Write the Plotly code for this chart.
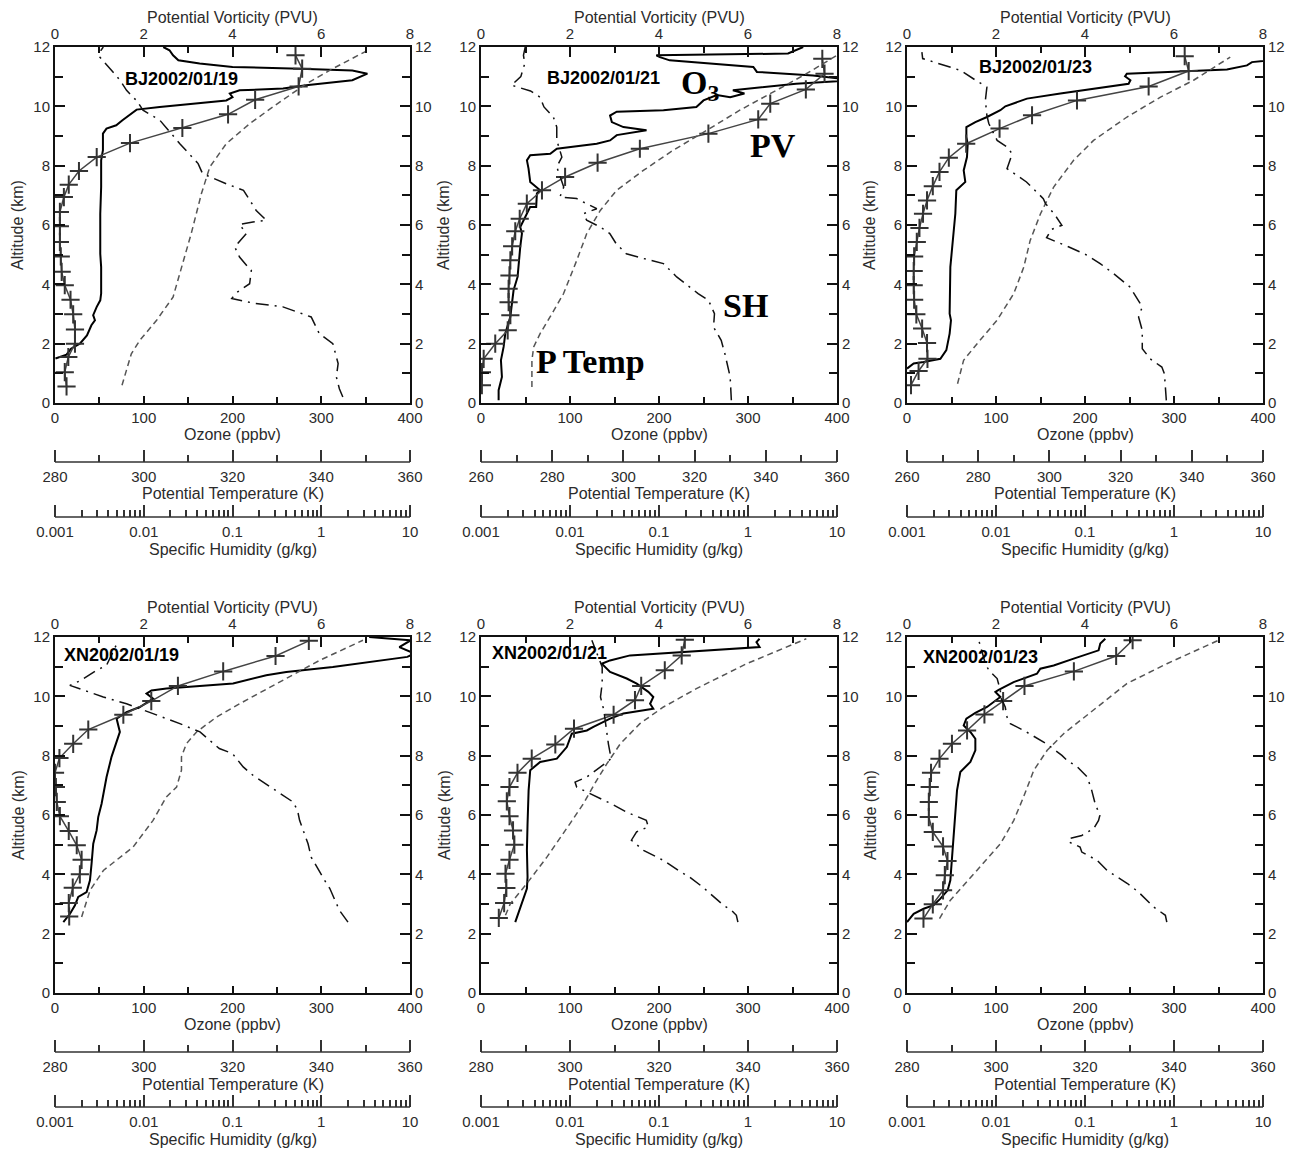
import plotly.graph_objects as go

W, H = 1298, 1150

# ---------------- data ----------------
# BJ 2002/01/19
bj19_o3_alt = [1.5, 1.63, 1.83, 2.0, 2.28, 2.62, 2.79, 2.96, 3.24, 3.46, 3.69, 4.58, 5.03, 6.38, 7.28, 8.18, 8.52, 9.08, 9.25, 9.36, 9.53, 9.70, 9.89, 9.98, 10.09, 10.2, 10.31, 10.43, 10.54, 10.6, 10.71, 10.88, 11.1, 11.21, 11.27, 11.33, 11.44, 11.55, 11.72, 11.89, 12.0]
bj19_o3 = [0.5, 13, 18, 28, 36, 41, 45, 43, 47, 51, 52, 52, 51, 51, 52, 52, 54, 54, 58, 69, 76, 84, 92, 118, 156, 193, 200, 197, 208, 257, 283, 335, 352, 335, 276, 200, 163, 139, 133, 129, 122]
bj19_pv_alt = [0.56, 1.04, 1.55, 2.0, 2.48, 2.99, 3.48, 3.97, 4.42, 4.94, 5.43, 5.96, 6.44, 6.94, 7.36, 7.82, 8.29, 8.76, 9.27, 9.73, 10.22, 10.67, 11.27, 11.72]
bj19_pv = [0.26, 0.22, 0.30, 0.45, 0.45, 0.41, 0.35, 0.22, 0.15, 0.13, 0.11, 0.11, 0.11, 0.20, 0.31, 0.54, 0.94, 1.69, 2.87, 3.90, 4.51, 5.49, 5.57, 5.42]
bj19_pt_alt = [0.6, 1.66, 2.11, 2.79, 3.57, 4.58, 5.71, 7.06, 7.96, 8.74, 9.42, 9.98, 10.76, 11.27, 11.89]
bj19_pt = [295.1, 297.2, 299.1, 302.9, 306.6, 308.5, 310.7, 313.0, 314.9, 318.6, 323.9, 329.1, 336.6, 342.6, 350.5]
bj19_sh_alt = [0.2, 0.48, 0.88, 1.33, 2.0, 2.34, 2.9, 3.24, 3.37, 3.46, 3.52, 3.71, 4.02, 4.47, 4.58, 4.92, 5.26, 5.71, 6.02, 6.1, 6.16, 6.49, 7.17, 7.39, 7.73, 8.07, 8.74, 9.53, 9.87, 10.2, 10.3, 10.54, 10.88, 11.16, 11.66, 11.89, 12.0]
bj19_sh = [1.75, 1.6, 1.48, 1.55, 1.35, 0.95, 0.77, 0.37, 0.17, 0.116, 0.098, 0.11, 0.156, 0.163, 0.15, 0.12, 0.106, 0.143, 0.12, 0.17, 0.24, 0.185, 0.133, 0.085, 0.046, 0.041, 0.0255, 0.0152, 0.0098, 0.0083, 0.0076, 0.0064, 0.0054, 0.0045, 0.0032, 0.0033, 0.0035]

# BJ 2002/01/21
bj21_o3_alt = [0.09, 0.43, 0.88, 1.44, 1.89, 2.34, 2.9, 3.35, 3.8, 4.25, 4.7, 5.26, 5.71, 5.93, 6.27, 6.61, 6.61, 7.06, 7.17, 7.45, 7.9, 8.18, 8.35, 8.4, 8.57, 8.63, 8.74, 8.85, 9.03, 9.19, 9.3, 9.47, 9.69, 9.82, 9.87, 9.98, 10.2, 10.38, 10.31, 10.43, 10.54, 10.76, 10.88, 11.04, 11.16, 11.33, 11.44, 11.55, 11.66, 11.72, 11.78, 11.9, 12.0]
bj21_o3 = [19.8, 19.8, 23.5, 22.4, 25.4, 27.3, 32.9, 34.8, 36.6, 41.1, 42.2, 44.1, 46, 44.1, 49.7, 55.3, 62, 62.8, 66.5, 55.3, 53.4, 51.6, 55.3, 77.8, 85.2, 100, 130, 145, 152.5, 186, 160, 147, 145, 152.5, 205, 242, 250, 265, 280, 296, 283, 354, 418, 373, 310, 306, 253, 212, 201, 197, 345, 355, 362]
bj21_pv_alt = [0.6, 1.04, 1.49, 2.0, 2.45, 2.96, 3.4, 3.85, 4.3, 4.81, 5.28, 5.79, 6.21, 6.72, 7.17, 7.62, 8.1, 8.57, 9.08, 9.56, 10.09, 10.57, 11.1, 11.6]
bj21_pv = [0.02, 0.02, 0.06, 0.32, 0.60, 0.66, 0.62, 0.62, 0.64, 0.66, 0.70, 0.77, 0.87, 1.03, 1.37, 1.89, 2.62, 3.57, 5.11, 6.23, 6.50, 7.30, 7.72, 7.67]
bj21_pt_alt = [0.54, 1.44, 1.89, 2.34, 2.9, 3.69, 4.81, 5.71, 6.49, 7.17, 7.84, 8.52, 9.19, 9.87, 10.6, 11.1, 11.72]
bj21_pt = [274.3, 274.3, 274.8, 276.6, 279.4, 283.2, 286.9, 289.7, 293.5, 298.1, 305.6, 314.0, 323.4, 332.7, 343.9, 351.4, 360.0]
bj21_sh_alt = [0.09, 0.88, 1.66, 2.11, 2.56, 3.01, 3.46, 3.69, 4.25, 4.7, 4.87, 5.03, 5.37, 5.71, 5.93, 6.16, 6.38, 6.55, 6.66, 6.89, 6.94, 7.28, 7.96, 8.29, 8.63, 8.85, 9.3, 9.64, 9.98, 10.31, 10.52, 10.71, 11.0, 11.44, 11.72, 12.0]
bj21_sh = [0.65, 0.63, 0.55, 0.5, 0.41, 0.42, 0.36, 0.275, 0.158, 0.112, 0.067, 0.043, 0.033, 0.028, 0.022, 0.0154, 0.0142, 0.020, 0.0168, 0.0119, 0.0077, 0.0085, 0.0071, 0.0081, 0.0075, 0.0071, 0.0071, 0.0065, 0.0051, 0.0046, 0.0036, 0.0022, 0.0028, 0.0031, 0.0030, 0.00314]

# BJ 2002/01/23
bj23_o3_alt = [1.16, 1.33, 1.38, 1.49, 1.78, 2.34, 2.79, 3.01, 4.58, 5.48, 6.38, 7.17, 7.45, 7.84, 8.29, 8.74, 8.97, 9.3, 9.47, 9.64, 9.87, 10.0, 10.26, 10.43, 10.6, 10.76, 10.88, 11.01, 11.1, 11.19, 11.24, 11.38, 11.49, 11.6, 11.78, 11.94, 12.0]
bj23_o3 = [0, 7.5, 18.7, 37.5, 44.2, 47.9, 49.4, 47.9, 48.7, 51.7, 54.3, 55.4, 65.5, 63.7, 67.4, 68.2, 66.7, 66.7, 76.8, 89.9, 104.9, 110.5, 134.8, 172.3, 209.7, 249, 251, 245, 247, 322, 359.5, 382, 387.6, 423, 432, 425, 408]
bj23_pv_alt = [0.6, 1.08, 1.49, 2.02, 2.51, 2.99, 3.48, 3.97, 4.45, 4.94, 5.43, 5.9, 6.38, 6.83, 7.31, 7.79, 8.27, 8.74, 9.25, 9.7, 10.2, 10.67, 11.19, 11.69]
bj23_pv = [0.09, 0.26, 0.46, 0.45, 0.34, 0.21, 0.16, 0.15, 0.15, 0.16, 0.22, 0.28, 0.36, 0.45, 0.58, 0.73, 0.94, 1.33, 2.08, 2.81, 3.82, 5.43, 6.33, 6.24]
bj23_pt_alt = [0.65, 1.44, 2.0, 2.79, 3.69, 4.58, 5.48, 6.38, 7.28, 8.18, 8.85, 9.64, 10.31, 10.88, 11.66]
bj23_pt = [274.2, 275.9, 279.7, 285.3, 290.0, 292.8, 294.6, 297.5, 301.2, 306.8, 312.4, 321.8, 331.2, 340.5, 350.8]
bj23_sh_alt = [0.09, 0.48, 0.99, 1.21, 1.49, 1.83, 2.45, 2.9, 3.24, 3.91, 4.36, 4.7, 4.98, 5.26, 5.57, 5.85, 5.99, 6.38, 6.72, 6.89, 7.45, 7.9, 8.4, 8.63, 8.85, 9.42, 9.69, 10.2, 10.65, 10.88, 11.21, 11.61, 11.83]
bj23_sh = [0.82, 0.80, 0.78, 0.73, 0.54, 0.44, 0.44, 0.40, 0.44, 0.32, 0.21, 0.148, 0.106, 0.066, 0.037, 0.042, 0.055, 0.045, 0.036, 0.034, 0.022, 0.0133, 0.0152, 0.0133, 0.0103, 0.0083, 0.0079, 0.0076, 0.0079, 0.0059, 0.0040, 0.0015, 0.00147]

# XN 2002/01/19
xn19_o3_alt = [2.39, 2.67, 2.96, 3.24, 3.4, 3.8, 4.36, 5.03, 5.48, 5.93, 6.38, 7.28, 7.96, 8.52, 8.8, 9.25, 9.47, 9.64, 9.92, 10.09, 10.2, 10.26, 10.31, 10.43, 10.71, 10.82, 10.99, 11.33, 11.44, 11.66, 11.89, 12.0]
xn19_o3 = [9.4, 16.9, 22.5, 26.2, 35.6, 39.4, 41.2, 43.1, 46.9, 48.7, 52.5, 58.1, 63.7, 69.4, 73.1, 69.4, 80.6, 95.6, 110.6, 103.1, 108.7, 125.6, 148.1, 200.6, 238, 260.6, 313, 397, 405, 388, 401, 354]
xn19_pv_alt = [2.58, 3.03, 3.55, 4.0, 4.49, 4.98, 5.46, 5.96, 6.44, 6.94, 7.42, 7.92, 8.4, 8.88, 9.38, 9.84, 10.35, 10.84, 11.36, 11.87]
xn19_pv = [0.32, 0.31, 0.40, 0.56, 0.60, 0.49, 0.31, 0.11, 0.04, 0.02, 0.0, 0.10, 0.41, 0.75, 1.54, 2.17, 2.77, 3.79, 4.97, 5.72]
xn19_pt_alt = [2.56, 3.46, 4.13, 4.92, 5.82, 6.61, 6.94, 7.51, 7.96, 8.4, 8.8, 9.3, 9.75, 10.37, 11.21, 11.89]
xn19_pt = [286.0, 287.9, 290.9, 297.6, 302.1, 305.1, 307.4, 308.5, 308.5, 309.6, 311.9, 316.4, 321.6, 329.1, 339.6, 349.4]
xn19_sh_alt = [2.39, 2.79, 3.52, 3.8, 4.58, 5.03, 5.82, 6.16, 6.44, 6.83, 7.34, 7.62, 8.07, 8.24, 8.8, 9.08, 9.42, 9.75, 9.98, 10.37, 10.52, 10.88, 11.04, 11.89]
xn19_sh = [2.0, 1.6, 1.25, 1.09, 0.77, 0.71, 0.57, 0.54, 0.48, 0.31, 0.17, 0.132, 0.10, 0.071, 0.043, 0.0255, 0.0127, 0.0064, 0.0035, 0.00147, 0.0019, 0.00294, 0.0038, 0.0052]

# XN 2002/01/21
xn21_o3_alt = [2.39, 2.73, 3.07, 3.52, 3.91, 4.81, 5.71, 6.83, 7.51, 7.79, 7.9, 8.29, 8.74, 8.85, 8.97, 9.25, 9.42, 9.58, 9.75, 9.98, 10.15, 10.43, 10.6, 10.82, 11.1, 11.21, 11.38, 11.49, 11.66, 11.83, 11.94]
xn21_o3 = [38.5, 42.2, 46, 51.6, 52.3, 51.6, 52.3, 53.5, 55.3, 66.5, 85.2, 96.4, 102, 118.9, 126.3, 145, 160, 193.6, 190, 193.6, 188, 175, 163.7, 145, 135.7, 145, 167.5, 223.5, 313, 309.5, 313]
xn21_pv_alt = [2.53, 3.03, 3.54, 4.02, 4.49, 5.0, 5.48, 5.96, 6.46, 6.94, 7.42, 7.9, 8.38, 8.91, 9.38, 9.87, 10.35, 10.88, 11.38, 11.91]
xn21_pv = [0.40, 0.52, 0.57, 0.55, 0.64, 0.75, 0.72, 0.64, 0.58, 0.64, 0.82, 1.14, 1.67, 2.09, 2.98, 3.46, 3.60, 4.13, 4.51, 4.58]
xn21_pt_alt = [2.62, 3.01, 3.69, 4.58, 5.71, 6.38, 7.17, 7.73, 8.4, 9.08, 9.64, 10.26, 11.1, 11.94]
xn21_pt = [285.5, 286.6, 290.3, 294.8, 300.0, 303.0, 306.0, 308.3, 311.3, 315.7, 321.0, 328.4, 339.7, 353.1]
xn21_sh_alt = [2.39, 2.62, 2.79, 2.96, 3.57, 3.91, 4.13, 4.47, 4.81, 5.15, 5.43, 5.6, 5.82, 6.1, 6.38, 6.66, 6.94, 7.11, 7.28, 7.62, 7.9, 8.4, 8.85, 9.13, 9.53, 9.98, 10.43, 10.99, 11.89]
xn21_sh = [0.77, 0.74, 0.65, 0.53, 0.31, 0.22, 0.165, 0.112, 0.067, 0.049, 0.056, 0.076, 0.072, 0.043, 0.029, 0.0184, 0.0119, 0.0114, 0.0154, 0.022, 0.029, 0.027, 0.026, 0.025, 0.024, 0.022, 0.023, 0.023, 0.0176]

# XN 2002/01/23
xn23_o3_alt = [2.39, 2.67, 2.84, 2.96, 3.18, 3.46, 3.8, 4.58, 5.48, 6.04, 6.83, 7.45, 7.79, 8.18, 8.57, 8.8, 9.02, 9.25, 9.44, 9.64, 9.98, 10.15, 10.22, 10.48, 10.76, 10.93, 11.04, 11.27, 11.55, 11.78, 11.94]
xn23_o3 = [0, 7.5, 18.7, 30, 37.5, 45.7, 48.7, 50.6, 52.4, 54.3, 56.2, 59.9, 71.2, 76.8, 76.8, 71.2, 63.7, 66.7, 76.8, 89.9, 104.9, 99.3, 103, 119.8, 146, 149.8, 164.8, 187.3, 215.3, 217.2, 222.8]
xn23_pv_alt = [2.51, 2.99, 3.46, 3.97, 4.45, 4.94, 5.43, 5.93, 6.44, 6.94, 7.42, 7.9, 8.4, 8.85, 9.39, 9.84, 10.35, 10.84, 11.36, 11.89]
xn23_pv = [0.37, 0.58, 0.81, 0.85, 0.91, 0.81, 0.58, 0.49, 0.49, 0.51, 0.54, 0.73, 1.01, 1.35, 1.74, 2.16, 2.64, 3.75, 4.70, 5.07]
xn23_pt_alt = [2.51, 3.12, 4.13, 5.03, 5.82, 6.61, 7.51, 8.18, 8.74, 9.53, 10.43, 11.1, 11.89]
xn23_pt = [287.3, 289.7, 295.7, 301.0, 304.0, 306.2, 308.5, 311.5, 315.2, 321.9, 329.4, 338.4, 350.0]
xn23_sh_alt = [2.39, 2.62, 2.73, 2.9, 3.4, 3.69, 4.13, 4.47, 4.75, 4.92, 5.09, 5.2, 5.31, 5.54, 5.82, 5.99, 6.38, 6.83, 7.28, 7.62, 7.84, 8.01, 8.4, 8.85, 9.08, 9.3, 9.64, 9.98, 10.2, 10.6, 10.88, 11.1, 11.89]
xn23_sh = [0.83, 0.80, 0.71, 0.59, 0.40, 0.30, 0.177, 0.137, 0.092, 0.088, 0.066, 0.066, 0.092, 0.125, 0.142, 0.147, 0.130, 0.119, 0.106, 0.082, 0.063, 0.055, 0.037, 0.0205, 0.0145, 0.0133, 0.0127, 0.0112, 0.0112, 0.0103, 0.0083, 0.0076, 0.0064]

panel_titles = ["BJ2002/01/19", "BJ2002/01/21", "BJ2002/01/23",
                "XN2002/01/19", "XN2002/01/21", "XN2002/01/23"]
pt_ranges = [[280, 360], [260, 360], [260, 360], [280, 360], [280, 360], [280, 360]]
ozone_ticks = [0, 100, 200, 300, 400]
pv_ticks = [0, 2, 4, 6, 8]
alt_ticks = [0, 2, 4, 6, 8, 10, 12]
pt_major = [260, 280, 300, 320, 340, 360]
pt_minor = [270, 290, 310, 330, 350]
sh_ticks = [0.001, 0.01, 0.1, 1, 10]
sh_ticktext = ["0.001", "0.01", "0.1", "1", "10"]
sh_minor = [k * 10.0 ** e for e in range(-3, 1) for k in range(2, 10)]

panels = [
    (bj19_o3_alt, bj19_o3, bj19_pv_alt, bj19_pv, bj19_pt_alt, bj19_pt, bj19_sh_alt, bj19_sh),
    (bj21_o3_alt, bj21_o3, bj21_pv_alt, bj21_pv, bj21_pt_alt, bj21_pt, bj21_sh_alt, bj21_sh),
    (bj23_o3_alt, bj23_o3, bj23_pv_alt, bj23_pv, bj23_pt_alt, bj23_pt, bj23_sh_alt, bj23_sh),
    (xn19_o3_alt, xn19_o3, xn19_pv_alt, xn19_pv, xn19_pt_alt, xn19_pt, xn19_sh_alt, xn19_sh),
    (xn21_o3_alt, xn21_o3, xn21_pv_alt, xn21_pv, xn21_pt_alt, xn21_pt, xn21_sh_alt, xn21_sh),
    (xn23_o3_alt, xn23_o3, xn23_pv_alt, xn23_pv, xn23_pt_alt, xn23_pt, xn23_sh_alt, xn23_sh),
]

# ---------------- layout geometry (pixels) ----------------
col_px = [(55, 410), (481, 837), (907, 1263)]
row_px = [(47, 403), (637, 993)]
label_px = [(123, 79), (545, 78), (977, 67), (62, 655), (490, 653), (921, 657)]
PT_OFF, SH_OFF = 59, 114

FONT = "Liberation Sans, Arial, Helvetica, sans-serif"
TXT = "#2b2b2b"
AX = "#111111"
AX2 = "#333333"


def fx(px):
    return px / W


def fy(py):
    return 1 - py / H


def xn(n):
    return "x" if n == 1 else f"x{n}"


def yn(n):
    return "y" if n == 1 else f"y{n}"


def xk(n):
    return "xaxis" if n == 1 else f"xaxis{n}"


def yk(n):
    return "yaxis" if n == 1 else f"yaxis{n}"


base = dict(showgrid=False, zeroline=False, showline=True, linecolor=AX, linewidth=2,
            ticks="inside", tickcolor=AX, tickwidth=1.5,
            tickfont=dict(family=FONT, size=15, color=TXT), fixedrange=True)

fig = go.Figure()
layout = {}
annotations = []
shapes = []


def dummy(xa, ya):
    fig.add_trace(go.Scatter(x=[None], y=[None], mode="lines", xaxis=xa, yaxis=ya,
                             showlegend=False, hoverinfo="skip"))


for i, (o3a, o3, pva, pv, pta, pt, sha, sh) in enumerate(panels):
    r, c = divmod(i, 3)
    x0, x1 = col_px[c]
    ytop, ybot = row_px[r]
    dom_x = [fx(x0), fx(x1)]
    dom_y = [fy(ybot), fy(ytop)]
    xo, xpv, xpt, xsh, xptm, xshm = [6 * i + k for k in range(1, 7)]
    ya, yr = 2 * i + 1, 2 * i + 2
    pos_pt = fy(ybot + PT_OFF)
    pos_sh = fy(ybot + SH_OFF)

    layout[xk(xo)] = dict(base, domain=dom_x, anchor=yn(ya), range=[0, 400], side="bottom",
                          tickvals=ozone_ticks, ticklen=7,
                          minor=dict(dtick=50, tick0=0, ticklen=6, ticks="inside", tickcolor=AX))
    layout[xk(xpv)] = dict(base, overlaying=xn(xo), anchor=yn(ya), range=[0, 8], side="top",
                           tickvals=pv_ticks, ticklen=10,
                           minor=dict(dtick=1, tick0=0, ticklen=6, ticks="inside", tickcolor=AX))
    # potential temperature: labels + short ticks
    layout[xk(xpt)] = dict(base, overlaying=xn(xo), anchor="free", position=pos_pt,
                           range=pt_ranges[i], side="bottom", tickvals=pt_major, ticks="",
                           showline=False, ticklabelstandoff=4,
                           minor=dict(tickvals=pt_minor, ticklen=7, ticks="inside",
                                      tickcolor=AX2, tickwidth=1.5))
    # potential temperature: long ticks
    layout[xk(xptm)] = dict(base, overlaying=xn(xo), anchor="free", position=pos_pt,
                            range=pt_ranges[i], side="bottom", ticks="", showline=False,
                            showticklabels=False,
                            minor=dict(tickvals=pt_major, ticklen=12, ticks="inside",
                                       tickcolor=AX2, tickwidth=1.5))
    # specific humidity: labels + short ticks
    layout[xk(xsh)] = dict(base, overlaying=xn(xo), anchor="free", position=pos_sh,
                           type="log", range=[-3, 1], side="bottom",
                           tickvals=sh_ticks, ticktext=sh_ticktext, ticks="", showline=False,
                           ticklabelstandoff=4,
                           minor=dict(tickvals=sh_minor, ticklen=7, ticks="inside",
                                      tickcolor=AX2, tickwidth=1.5))
    # specific humidity: long ticks
    layout[xk(xshm)] = dict(base, overlaying=xn(xo), anchor="free", position=pos_sh,
                            type="log", range=[-3, 1], side="bottom", ticks="", showline=False,
                            showticklabels=False,
                            minor=dict(tickvals=sh_ticks, ticklen=12, ticks="inside",
                                       tickcolor=AX2, tickwidth=1.5))
    layout[yk(ya)] = dict(base, domain=dom_y, anchor=xn(xo), range=[0, 12], side="left",
                          tickvals=alt_ticks, ticklen=10,
                          minor=dict(dtick=1, tick0=0, ticklen=8, ticks="inside", tickcolor=AX))
    layout[yk(yr)] = dict(base, overlaying=yn(ya), anchor=xn(xo), range=[0, 12], side="right",
                          tickvals=alt_ticks, ticklen=10,
                          minor=dict(dtick=1, tick0=0, ticklen=8, ticks="inside", tickcolor=AX))

    # baselines of the two extra horizontal axes
    for pos in (pos_pt, pos_sh):
        shapes.append(dict(type="line", xref="paper", yref="paper", x0=fx(x0), x1=fx(x1),
                           y0=pos, y1=pos, line=dict(color=AX2, width=1.5)))

    # traces
    fig.add_trace(go.Scatter(x=pt, y=pta, mode="lines", xaxis=xn(xpt), yaxis=yn(ya),
                             line=dict(color="#555555", width=1.5, dash="6px,4px"),
                             showlegend=False, hoverinfo="skip"))
    fig.add_trace(go.Scatter(x=sh, y=sha, mode="lines", xaxis=xn(xsh), yaxis=yn(ya),
                             line=dict(color="#111111", width=1.5, dash="13px,6px,2px,6px"),
                             showlegend=False, hoverinfo="skip"))
    fig.add_trace(go.Scatter(x=o3, y=o3a, mode="lines", xaxis=xn(xo), yaxis=yn(ya),
                             line=dict(color="#000000", width=2),
                             showlegend=False, hoverinfo="skip"))
    fig.add_trace(go.Scatter(x=pv, y=pva, mode="lines+markers", xaxis=xn(xpv), yaxis=yn(ya),
                             line=dict(color="#444444", width=1.5),
                             marker=dict(symbol="cross-thin", size=13,
                                         line=dict(color="#333333", width=2)),
                             showlegend=False, hoverinfo="skip"))
    dummy(xn(xo), yn(yr))
    dummy(xn(xptm), yn(ya))
    dummy(xn(xshm), yn(ya))

    # axis titles as text
    xc = (x0 + x1) / 2
    tfont = dict(family=FONT, size=16, color=TXT)
    for text, py in [("Potential Vorticity (PVU)", ytop - 30), ("Ozone (ppbv)", ybot + 31),
                     ("Potential Temperature (K)", ybot + 91), ("Specific Humidity (g/kg)", ybot + 146)]:
        annotations.append(dict(text=text, x=fx(xc), y=fy(py), xref="paper", yref="paper",
                                xanchor="center", yanchor="middle", showarrow=False, font=tfont))
    annotations.append(dict(text="Altitude (km)", x=fx(x0 - 37), y=fy((ytop + ybot) / 2),
                            xref="paper", yref="paper", xanchor="center", yanchor="middle",
                            textangle=-90, showarrow=False, font=tfont))
    lx, ly = label_px[i]
    annotations.append(dict(text=f"<b>{panel_titles[i]}</b>", x=fx(lx), y=fy(ly),
                            xref="paper", yref="paper", xanchor="left", yanchor="middle",
                            showarrow=False, font=dict(family=FONT, size=18, color="#000")))

# big serif labels in the BJ2002/01/21 panel
big_labels = [("O<sub>3</sub>", 679, 85), ("PV", 748, 146), ("SH", 721, 305), ("P Temp", 534, 361)]
for text, px, py in big_labels:
    annotations.append(dict(text=f"<b>{text}</b>", x=fx(px), y=fy(py), xref="paper", yref="paper",
                            xanchor="left", yanchor="middle", showarrow=False,
                            font=dict(family="Liberation Serif, Times New Roman, serif", size=34,
                                      color="#000")))

fig.update_layout(width=W, height=H, margin=dict(l=0, r=0, t=0, b=0, autoexpand=False),
                  paper_bgcolor="white", plot_bgcolor="white", showlegend=False,
                  annotations=annotations, shapes=shapes, **layout)

fig.write_html("out.html", config={"displayModeBar": False},
               post_script="document.body.style.margin='0';")
